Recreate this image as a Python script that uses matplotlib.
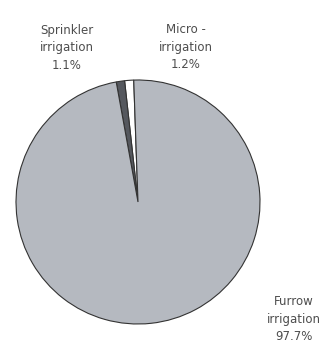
import matplotlib
matplotlib.use("Agg")
from matplotlib import pyplot as plt

# irrigation shares (%), drawn counterclockwise from the top
labels = ["Micro -\nirrigation", "Sprinkler\nirrigation", "Furrow\nirrigation"]
shares = [1.2, 1.1, 97.7]
pct_text = ["1.2%", "1.1%", "97.7%"]
colors = ["#ffffff", "#55585e", "#b5b9c0"]

plt.rcParams['font.family'] = ['DejaVu Sans']

W, H = 328, 346
fig = plt.figure(figsize=(W / 100, H / 100), dpi=100)
ax = fig.add_axes([0, 0, 1, 1])
ax.set_xlim(0, W)
ax.set_ylim(0, H)
ax.set_aspect('equal')
ax.axis('off')

# pixel positions measured from the top-left corner, converted to y-up
cx, cy = 138, 202
ax.pie(shares, colors=colors, startangle=92, counterclock=True,
       center=(cx, H - cy), radius=122,
       wedgeprops=dict(edgecolor='#333333', linewidth=0.8))
ax.set_xlim(0, W)
ax.set_ylim(0, H)

text_pos = [(186, 47), (67, 48), (294, 319)]
for lab, pct, (x, y) in zip(labels, pct_text, text_pos):
    ax.text(x, H - y, f"{lab}\n{pct}", ha='center', va='center', fontsize=8.5,
            color='#4d4d4d', linespacing=1.45)

fig.savefig("out.png", dpi=100)
